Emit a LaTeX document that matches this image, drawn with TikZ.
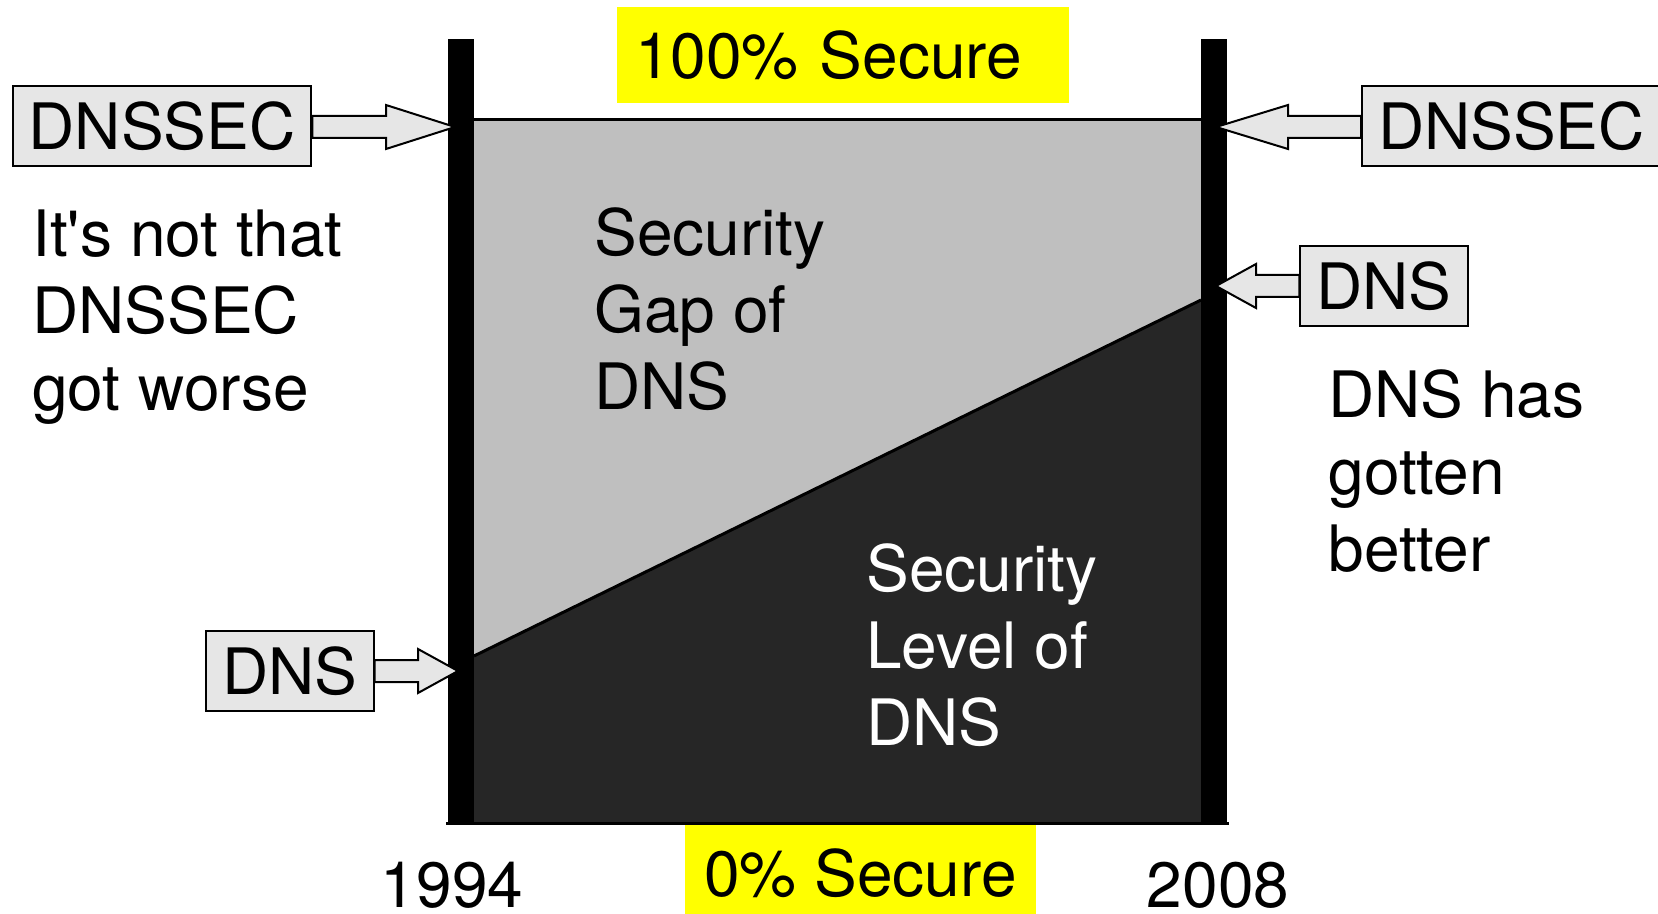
\documentclass[tikz,border=0pt]{standalone}
\usepackage{fontspec}
\setmainfont{TeX Gyre Heros}
\usetikzlibrary{calc}
\definecolor{gapgray}{HTML}{BFBFBF}
\definecolor{levelgray}{HTML}{262626}
\definecolor{taggray}{HTML}{E6E6E6}
\definecolor{markyellow}{HTML}{FFFF00}

\tikzset{
  tag/.style={rectangle, draw=black, line width=1pt, fill=taggray, minimum height=40pt, inner xsep=8pt, inner ysep=0pt},
  blockarrow/.style={draw=black, line width=1pt, fill=taggray, line join=miter},
  remark/.style={anchor=north west, inner sep=0pt, align=left},
  marker/.style={rectangle, fill=markyellow, minimum height=48pt, inner ysep=0pt}
}

% hollow block arrow from a box side to a tip, #3 = signed head length
\newcommand{\blockarrow}[3]{%
  \draw[blockarrow] ($(#1 |- #2)+(0,5.5pt)$) -- ($(#2)+(#3,5.5pt)$) -- ($(#2)+(#3,11pt)$) -- (#2)
    -- ($(#2)+(#3,-11pt)$) -- ($(#2)+(#3,-5.5pt)$) -- ($(#1 |- #2)+(0,-5.5pt)$) -- cycle;}

\begin{document}
\begin{tikzpicture}[x=0.5pt, y=-0.5pt, every node/.style={font=\fontsize{32pt}{38.5pt}\selectfont}]
\useasboundingbox (0,0) rectangle (1658,914);

% Gap and level areas
\fill[gapgray] (474,120) rectangle (1201,822);
\fill[levelgray] (474,656) -- (1201,300) -- (1201,822) -- (474,822) -- cycle;
\draw[line width=1.5pt] (474,656) -- (1201,300);
\draw[line width=1.5pt] (474,119.5) -- (1201,119.5);
\draw[line width=1.5pt] (446,823) -- (1229,823);

% Bars for the two years
\fill (448,39) rectangle (474,823);
\fill (1201,39) rectangle (1227,823);
\node (start) [anchor=base, inner sep=0pt] at (452,907) {1994};
\node (finish) [anchor=base, inner sep=0pt] at (1218,907) {2008};

% Scale ends
\node (full) [marker, text width=208pt, inner xsep=9pt, align=left] at (843,55) {100\% Secure};
\node (none) [marker, minimum width=175.5pt] at (860.5,873) {0\% Secure};

% Remarks
\node (worse) [remark] at (32,209) {It\textquotesingle s not that\\DNSSEC\\got worse};
\node (gap) [remark] at (594,207) {Security\\Gap of\\DNS};
\node (level) [remark, text=white] at (866,543) {Security\\Level of\\DNS};
\node (better) [remark] at (1328,369) {DNS has\\gotten\\better};

% Tags pointing at the bars
\node (secL) [tag] at (162,126.5) {DNSSEC};
\node (secR) [tag] at (1511.5,126.5) {DNSSEC};
\node (dnsL) [tag] at (290,671) {DNS};
\node (dnsR) [tag] at (1384,286.5) {DNS};

\coordinate (secLtip) at (455,127);
\coordinate (secRtip) at (1216,127);
\coordinate (dnsLtip) at (458,671);
\coordinate (dnsRtip) at (1216,286);

\blockarrow{secL.east}{secLtip}{-34.5pt}
\blockarrow{secR.west}{secRtip}{36pt}
\blockarrow{dnsL.east}{dnsLtip}{-20pt}
\blockarrow{dnsR.west}{dnsRtip}{20pt}

\end{tikzpicture}
\end{document}
